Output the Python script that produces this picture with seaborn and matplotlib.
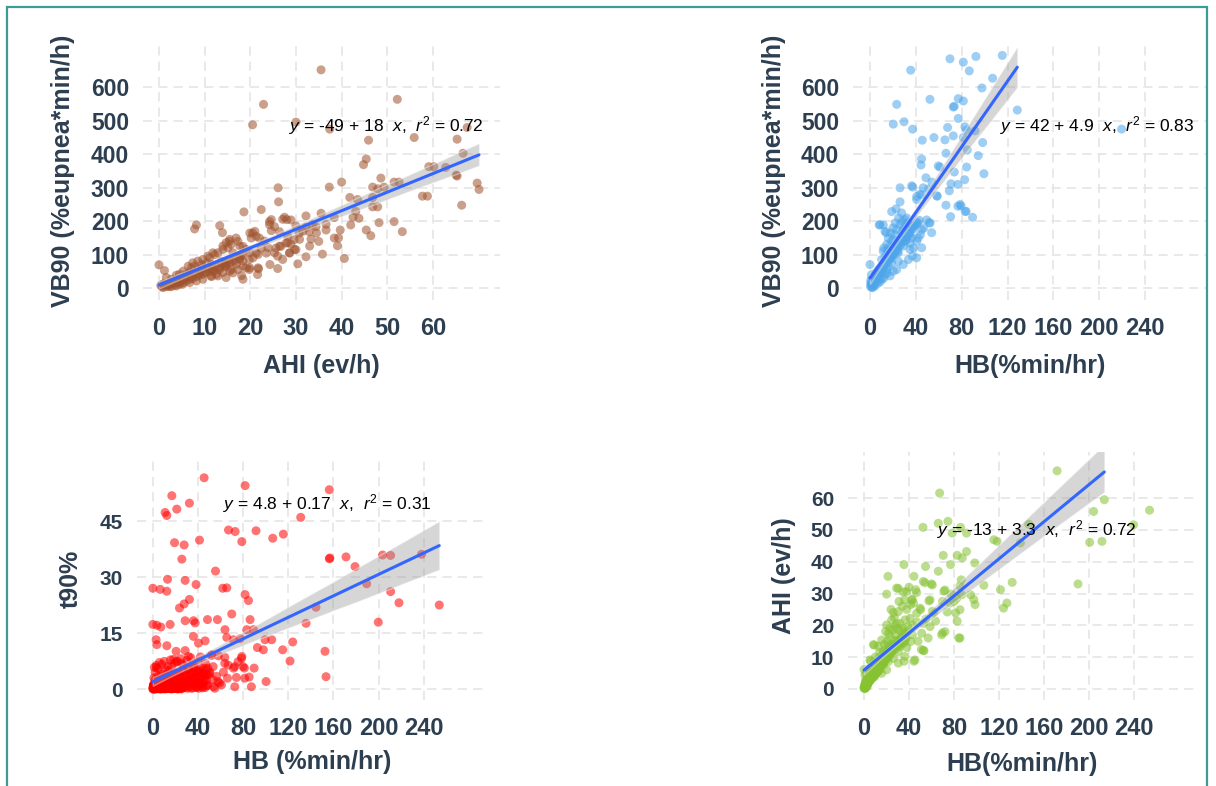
import matplotlib
matplotlib.use("Agg")
import matplotlib.pyplot as plt
import seaborn as sns
from matplotlib.patches import Rectangle
from matplotlib.collections import PolyCollection

# ---------------- data ----------------
# Panel 1: AHI (ev/h) vs VB90
p1_ahi = [35.5, 22.9, 20.5, 52.2, 37.4, 30, 45.9, 55.9, 65.3, 67.5,
          66.6, 45.4, 44.8, 59.1, 60.2, 62.8, 65.1, 65.3, 69.7, 70.1,
          66.3, 57.7, 58.8, 40, 37.3, 26.1, 26.2, 22.4, 18.6, 48.6,
          46.8, 47.9, 49.3, 51.5, 52.6, 41.8, 43.5, 46.8, 46.8, 47.9,
          43.1, 42.5, 43.8, 42, 48.2, 51.5, 53.3, 45.4, 46.4, 35.5,
          32.2, 38.4, 36.6, 36.6, 39.7, 38.4, 39.3, 39.1, 40.6, 35.8,
          35, 33.3, 32.2, 34.4, 30, 27.1, 28.9, 27.5, 28, 24.2,
          25.3, 24.6, 26.4, 28.2, 28.9, 30, 30.4, 32.2, 25.6, 26,
          24.3, 26, 21.8, 19.8, 20.5, 21.3, 8.2, 7.8, 13.3, 13.9,
          15.4, 17.3, 18.4, 18.1, 0, 1.2,
          0.7, 1.6, 2.3, 3.4, 4.2, 3.8, 4.9, 4.5, 5.6, 6,
          6.7, 7.1, 7.8, 8.5, 9.3, 9.6, 10.4, 11.1, 11.5, 11.8,
          11.5, 12.9, 12.2, 12.9, 14, 14.7, 15.1, 15.8, 16.2, 16.9,
          15.8, 14.4, 13.6, 18, 17.7, 19.1, 19.9, 20.6, 21.7, 21.7,
          19.9, 18.4, 19.9, 21, 20.2, 22, 23.1, 23.9, 25.3, 26.4,
          24.6, 24.2, 29.7, 28.2, 28.6, 30.8, 31.5, 33, 34.5,
          0.9, 2, 2.7, 3.4, 4.5, 5.3, 6, 6.7, 7.4, 8.2,
          8.9, 9.6, 10.4, 11.1, 12.2, 13.3, 14.6, 15.5, 16.6, 17.7,
          18.4, 19.1, 15.5, 14, 12.6,
          1.6, 2.7, 3.8, 5.3, 6.4, 7.4, 8.5, 9.6, 10.7, 11.8,
          14, 15.5, 16.9,
          13.3, 14.7, 16.2, 17.3, 19.8, 21.3, 22.4, 23.5, 26.7, 27.8,
          28.6, 29.6, 30.7, 32.9, 33.6, 27.1, 21.6, 18.4, 14.7, 11.4,
          9.6, 8.2, 6.7, 5.2, 3.8, 2.3, 0.9,
          0.4, 1.1, 1.9, 2.6, 3.3, 4.1, 4.8, 5.6, 6.3, 7.1,
          7.8, 8.6, 9.3, 10.1, 10.8, 11.6, 12.3, 13.1, 13.8, 14.6,
          15.3, 16.1, 16.8, 17.6, 18.3]
p1_vb90 = [652, 549, 488, 564, 475, 496, 442, 450, 445, 480,
           403, 386, 369, 363, 363, 361, 338, 335, 314, 295,
           248, 275, 275, 317, 302, 300, 258, 235, 228, 329,
           302, 297, 302, 317, 317, 271, 265, 271, 243, 243,
           230, 212, 209, 189, 196, 199, 169, 174, 157, 224,
           216, 211, 191, 174, 174, 150, 150, 127, 89, 102,
           140, 147, 182, 184, 186, 206, 204, 212, 205, 199,
           184, 172, 169, 155, 132, 115, 73, 94, 120, 96,
           71, 59, 58, 56, 165, 155, 189, 177, 187, 166,
           140, 140, 125, 38, 70, 53,
           5, 5, 12, 17, 17, 27, 27, 42, 32, 42,
           47, 61, 66, 56, 71, 61, 76, 91, 71, 51,
           35, 37, 101, 106, 116, 136, 121, 131, 106, 71,
           56, 66, 81, 96, 126, 116, 106, 91, 101, 61,
           61, 81, 165, 170, 150, 150, 141, 121, 106, 126,
           205, 190, 116, 136, 106, 146, 170, 126, 165,
           12, 9, 5, 9, 12, 17, 22, 27, 29, 35,
           39, 42, 47, 51, 54, 61, 74, 76, 81, 88,
           66, 61, 51, 47, 42,
           32, 27, 39, 51, 66, 76, 81, 86, 96, 106,
           126, 146, 150,
           56, 66, 46, 56, 86, 105, 120, 105, 125, 135,
           105, 145, 165, 169, 189, 86, 41, 27, 32, 37,
           27, 22, 17, 12, 7, 5, 2,
           8, 14, 10, 20, 16, 25, 22, 30, 36, 33,
           45, 42, 52, 49, 60, 58, 66, 64, 75, 72,
           84, 80, 95, 89, 102]

# Panel 2: HB (%min/hr) vs VB90
p2_hb = [69.8, 92.4, 115.4, 81.4, 86.6, 35.5, 107, 97.7, 23.3, 52.3,
         77, 81.4, 72.7, 73.5, 128.5, 20.3, 29.7, 37.2, 77, 82.8,
         84.3, 67.7, 91.6, 45.6, 55.8, 65.4, 72.7, 81.4, 98.3, 66.3,
         84.9, 94.4, 45, 44.5, 59.6, 61, 84.3, 73.5, 99.4, 48.8,
         54, 46.5, 26.2, 37.2, 58.7, 69.2, 76.7, 70.6, 82.6, 66.3,
         76.7, 79.4, 83.1, 89.5, 70.3, 26.2, 18.9, 40.7, 43.6, 51.7,
         53.8, 49.4, 8.1, 14, 11.6, 40.7,
         36.4, 40.8, 45.1, 50.9, 58.2, 78.6, 83.8, 22.7, 8.7, 13.1,
         27.6, 30.6, 33.5, 37.8, 40.8, 45.1, 52.4, 34.9, 40.8, 45.1,
         34.9, 29.1, 24.7, 17.5, 11.6, 7.3, 2.9, 1.5, 4.4, 0,
         14.6, 20.4, 26.2, 29.1, 20.4, 17.5, 14.6, 11.6, 10.2, 8.7,
         13.1, 17.5, 23.3, 29.1, 33.5, 37.1, 5.8, 10.2, 2.9, 0.6, 2.3,
         23.3, 26.2, 30.6, 33.5, 36.4, 27.6, 21.8, 18.9, 23.3, 16,
         13.1, 18.9, 24.7, 5.8, 14.6, 20.4, 8.1, 4.4,
         0.5, 1, 1.5, 2, 3, 3.5, 0.8, 1.2, 4, 6,
         7, 9, 12, 15, 16, 19, 21, 25, 28, 31,
         35, 38, 42, 44, 47, 32, 28, 25, 22, 20,
         18, 16, 15, 12,
         1.8, 3.6, 5.2, 6.9, 8.4, 9.8, 11.3, 12.7, 14.2, 15.5,
         16.9, 18.3, 19.6, 21, 22.4, 23.8, 25.1, 26.5, 27.9, 29.3,
         30.6, 32, 33.4, 34.8, 36.1, 37.5, 38.9, 40.2, 41.6, 43,
         4.7, 7.8, 10.6, 13.9, 17.2, 20.8, 24.1, 27.3, 31.5, 35.2]
p2_vb90 = [685, 692, 695, 675, 649, 651, 627, 598, 549, 564,
           566, 559, 541, 543, 532, 490, 497, 475, 507, 482,
           472, 480, 470, 442, 450, 443, 455, 450, 435, 403,
           413, 396, 386, 368, 365, 362, 362, 347, 342, 330,
           317, 300, 300, 302, 275, 291, 310, 312, 324, 248,
           245, 246, 229, 212, 214, 258, 229, 265, 281, 196,
           166, 204, 189, 166, 189, 91,
           306, 274, 279, 296, 276, 250, 230, 237, 190, 170,
           225, 205, 195, 185, 195, 175, 195, 160, 141, 121,
           116, 126, 106, 86, 66, 56, 27, 12, 7, 71,
           101, 116, 146, 175, 146, 126, 131, 111, 86, 47,
           42, 37, 56, 71, 86, 96, 22, 27, 7, 17, 2,
           175, 190, 185, 170, 150, 165, 160, 141, 126, 111,
           91, 76, 81, 42, 56, 51, 27, 32,
           5, 10, 3, 15, 20, 12, 25, 40, 45, 35,
           15, 20, 30, 45, 65, 95, 100, 135, 150, 140,
           135, 120, 150, 160, 180, 210, 200, 210, 195, 180,
           165, 150, 115, 120,
           14, 24, 31, 42, 45, 55, 60, 70, 72, 82,
           88, 92, 101, 104, 113, 116, 126, 128, 139, 140,
           150, 152, 163, 165, 175, 178, 186, 190, 197, 203,
           30, 50, 48, 85, 95, 120, 110, 150, 145, 180]
p2_extra_hb = [219.5]
p2_extra_vb90 = [475]

# Panel 3: HB (%min/hr) vs t90%
p3_hb = [45.4, 81.7, 156.3, 16.8, 32.4, 21.2, 10.9, 12.4, 131, 67,
         72.9, 91.4, 106.2, 115.6, 78.8, 41.3, 19.2, 27.7, 25.7, 156.3,
         156.8, 171.1, 179.1, 203.5, 210.6, 238, 189.4, 210.6, 218, 253.7,
         144.5, 199.7, 135.7, 152.5, 153.4, 55.5, 65.5, 61.9, 13, 28.6,
         38.3, 0, 6.5, 12.4, 23.6, 27.7, 32.4, 28.6, 36, 37.5,
         48.4, 57.2, 69.9, 81.7, 84.7, 86.1, 0, 3.5, 7.1, 15.3,
         35.9, 46.3, 63.9, 65.5, 83.2, 89.1, 99.4, 105.3, 92.6, 97.9,
         115, 123.9, 121.5, 100.3, 2.9, 3.5, 12.4, 20.6, 28.6, 40.4,
         31.6, 52.2, 58.1, 71.4, 77.3, 78.8, 81.1, 85.3, 89.7, 71.4,
         53.7, 48.7,
         3.2, 7.7, 12.1, 16.5, 20.9, 25.4, 29.8, 34.2, 38.6, 1.8,
         6.2, 10.6, 15, 19.5, 23.9, 28.3, 32.7, 37.2, 41.6, 46,
         43, 47.5, 50.4, 44.5, 40.1, 35.7, 31.3, 26.8, 22.4, 18,
         13.6, 9.1, 4.7, 1.8, 4.7, 10.6, 16.5, 18, 20.9, 25.4,
         54.9, 57.8, 60.8, 53.4, 63.7, 66.7, 72.6, 75.5, 78.5, 80,
         74, 81.4, 72.6, 87.3, 51.9, 63.7,
         0, 0.5, 1, 1.5, 2, 2.5, 4, 5, 6, 9,
         11, 14, 18, 22, 24, 27, 31, 36, 40, 44,
         48, 0.5, 1, 2, 3, 5, 8, 12, 14, 17,
         21, 26, 30, 33, 35, 39, 42, 45,
         0.2, 0.6, 1.1, 1.7, 2.3, 2.9, 3.6, 4.2, 4.9, 5.5,
         6.1, 6.8, 7.4, 8.1, 8.7, 9.4, 10, 10.7, 11.3, 12,
         12.6, 13.3, 13.9, 14.6, 15.2, 15.9, 16.5, 17.2, 17.8, 18.5,
         19.1, 19.8, 20.4, 21.1, 21.7, 22.4, 23, 23.7, 24.3, 25,
         25.6, 26.3, 26.9, 27.6, 28.2, 28.9, 29.5, 30.2, 30.8, 31.5,
         32.1, 32.8, 33.4, 34.1, 34.7, 35.4, 36, 36.7, 37.3, 38,
         38.6, 39.3, 39.9, 40.6, 41.2, 41.9, 42.5, 43.2, 43.8, 44.5,
         45.1, 45.8, 46.4, 47.1, 47.7, 48.4, 49, 1.3, 3.1, 5.8,
         7.9, 10.2, 12.9, 15.6, 18.8, 21.5, 24.6, 27.1, 30.1, 33.6,
         36.2, 39.7, 42.2, 46.7, 50.3, 53.1, 56.4, 59.2, 62.5, 66.1,
         0.1, 0.4, 0.7, 1.0, 1.3, 1.6, 1.9, 2.2, 2.5, 2.8,
         3.1, 3.4, 3.7, 4.0, 4.3, 4.6, 4.9, 5.2, 5.5, 5.8,
         6.1, 6.4, 6.7, 7.0, 7.3, 7.6, 7.9, 8.2, 8.5, 8.8,
         9.1, 9.4, 9.7, 10.0, 10.3, 10.6, 10.9, 11.2, 11.5, 11.8,
         12.1, 12.4, 12.7, 13.0, 13.3, 13.6, 13.9, 14.2, 14.5, 14.8,
         15.1, 15.4, 15.7, 16.0, 16.3, 16.6, 16.9, 17.2, 17.5, 17.8,
         18.1, 18.4, 18.7, 19.0, 19.3, 19.6, 19.9, 20.2, 20.5, 20.8,
         21.1, 21.4, 21.7, 22.0, 22.3, 22.6, 22.9, 23.2, 23.5, 23.8,
         24.1, 24.4, 24.7, 0.3, 0.9, 1.5, 2.1, 2.7, 3.3, 3.9,
         4.5, 5.1, 5.7, 6.3, 6.9, 7.5, 8.1, 8.7, 9.3, 9.9,
         10.5, 11.1, 11.7, 12.3, 12.9, 13.5, 14.1, 14.7, 15.3, 15.9,
         16.5, 17.1, 17.7, 18.3, 18.9, 19.5, 20.1, 20.7, 21.3, 21.9]
p3_t90 = [56.6, 54.5, 53.4, 51.8, 49.8, 48.2, 47.3, 46.5, 46, 42.6,
          42.2, 42.4, 40.4, 41.5, 39.5, 39.9, 39.2, 38.6, 34.8, 34.9,
          35.1, 35.4, 32.8, 35.9, 35.8, 36.1, 28.2, 26.1, 23.1, 22.5,
          21.9, 17.9, 17.6, 10.1, 3.3, 31.6, 27.1, 27, 29.4, 29.1,
          28, 27, 26.7, 26.2, 21.7, 22.8, 24, 18.3, 18.3, 17.7,
          18.6, 18.6, 20.1, 25.3, 23.7, 18.6, 17.3, 17.1, 16.6, 17.3,
          14.1, 12.9, 15.9, 13.8, 15.9, 15.9, 13.2, 13.2, 11.1, 10.5,
          10.5, 12.6, 7.5, 2, 13.2, 11.9, 11.6, 10.1, 10.3, 12.3,
          8.7, 9.2, 8.9, 13.2, 13.5, 8.7, 5.6, 3.2, 5.6, 5.6,
          0.6, 5.6,
          0.2, 0, 0.2, 0, 0.4, 0, 0.4, 0.2, 0.4, 1.1,
          1.3, 1.7, 2, 2.4, 2.9, 3.3, 3.8, 4, 3.1, 2.4,
          1.5, 3.8, 4.6, 5.5, 4.6, 5.5, 5.1, 4.6, 4.2, 3.8,
          3.1, 2.6, 2, 2.4, 5.5, 5.1, 6, 7.9, 7.3, 6.9,
          0.2, 2, 1.1, 6, 6.9, 6.4, 6, 7.3, 8.2, 6,
          3.1, 2.9, 0.6, 0.6, 9, 8.5,
          0, 0, 0.1, 0, 0.3, 0, 0.1, 0.5, 0, 0.3,
          0, 0.5, 0.2, 0, 1, 0.5, 1.2, 1.8, 0.8, 0.3,
          0.9, 1, 3, 4.5, 5.8, 3.5, 4, 3.8, 5, 1,
          1.5, 2, 2.2, 1.5, 3, 2, 4.8, 4,
          0.3, 0.8, 0.1, 1.4, 0.5, 2.1, 0.2, 1.1, 2.6, 0.4,
          1.8, 0.1, 3.2, 0.7, 1.5, 2.8, 0.3, 1.9, 3.6, 0.6,
          2.3, 0.2, 4.1, 1.2, 2.7, 0.5, 3.4, 1.6, 0.2, 2.2,
          4.4, 0.9, 2.9, 0.3, 3.8, 1.4, 0.6, 4.6, 2.1, 0.1,
          3.1, 1.7, 0.4, 4.9, 2.5, 0.8, 3.7, 1.3, 0.2, 5.2,
          2.4, 0.7, 3.9, 1.5, 4.3, 0.3, 2.8, 5.6, 1.1, 3.3,
          0.5, 4.7, 2, 0.2, 3.6, 1.2, 5.1, 2.6, 0.6, 4.2,
          1.8, 3.4, 0.4, 5.4, 2.3, 1, 3.9, 5.8, 6.3, 7.1,
          6.6, 7.4, 6.1, 7.8, 6.9, 7.5, 8.1, 6.4, 7.7, 8.4,
          6.2, 7.3, 8.6, 6.8, 4.1, 2.5, 3.4, 1.6, 4.5, 2.9,
          0.2, 0.9, 0.4, 1.3, 0.1, 0.7, 1.1, 0.3, 0.8, 1.4,
          0.5, 0.1, 1.2, 0.6, 0.3, 1.0, 0.2, 1.5, 0.4, 0.9,
          0.1, 1.3, 0.6, 0.2, 1.1, 0.4, 0.8, 0.1, 1.4, 0.5,
          0.9, 0.3, 1.2, 0.1, 0.7, 1.5, 0.4, 0.2, 1.0, 0.6,
          0.3, 1.1, 0.1, 0.8, 1.4, 0.5, 0.2, 1.2, 0.7, 0.1,
          1.0, 0.4, 1.3, 0.2, 0.6, 0.9, 0.1, 1.5, 0.3, 0.8,
          0.5, 1.2, 0.2, 0.7, 1.1, 0.4, 0.1, 0.9, 1.3, 0.6,
          0.2, 0.8, 1.4, 0.3, 1.0, 0.5, 0.1, 1.2, 0.6, 0.4,
          1.1, 0.3, 0.7, 0.6, 1.2, 0.2, 0.9, 0.4, 1.3, 0.1,
          0.8, 0.5, 1.1, 0.2, 1.4, 0.7, 0.3, 1.0, 0.1, 0.6,
          1.2, 0.4, 0.9, 0.2, 1.3, 0.5, 0.8, 0.1, 1.1, 0.3,
          0.7, 1.4, 0.2, 1.0, 0.6, 0.3, 1.2, 0.5, 0.9, 0.1]

# Panel 4: HB (%min/hr) vs AHI (ev/h)
p4_hb = [171.6, 67.2, 213.6, 204.1, 200.6, 211.5, 52.4, 66, 74.6, 78.4,
         85.8, 91.1, 115.4, 118.3, 146.4, 139, 190.2, 70.4, 82.8, 87.3,
         91.1, 35.5, 54.7, 66, 76.9, 98.5, 44.4, 52.7, 59.8, 21.3,
         20.1, 29, 34.9, 45.9, 42.9, 41.4, 50.3, 57.7, 71, 77.5,
         86.4, 85.2, 94.7, 97.6, 106.5, 121.3, 131.7, 127, 124, 60.7,
         69.8, 74, 82.8, 84.3, 69.8, 63.6, 76.4, 81.4, 50.9, 53.3,
         44.4, 35.5, 20.7, 19.2, 8.3, 5.9, 0, 3, 1.5, 0,
         30.5, 37.9, 46.8, 54.2, 60.7, 31.1, 42.4, 49.8, 58.7, 40.9,
         46.8, 52.7, 58.7, 30.5, 24.6, 20.1, 27.6, 33.5, 37.3, 41.5,
         45.3, 52.7, 36.4, 30.5, 26.1, 21.6, 17.2, 12.7, 9.2, 5.3,
         3.9, 0.9, 1.5, 2.4, 5.3, 9.6, 12.7, 17.2, 21.6, 26.1,
         30.5, 20.1, 15.7, 11.2, 8.3, 18.7, 23.1, 27.6, 32, 35.1,
         15.7, 12.7, 21.6, 25.8, 32, 36.4, 72, 82.4, 86.8, 85.3,
         98.7, 72, 85.3, 80, 69, 51.3,
         0.5, 1, 2, 3, 4, 6, 7, 10, 14, 16,
         19, 23, 25, 28, 30, 33, 35, 39, 43, 47,
         27, 24, 29, 31, 18, 14, 10, 8, 6, 2,
         38, 44, 34, 40, 48, 55, 62, 57, 38, 43,
         23, 26, 36,
         0.3, 0.8, 1.2, 1.8, 2.5, 3.1, 3.7, 4.4, 5, 5.6,
         6.3, 6.9, 7.6, 8.2, 8.9, 9.5, 10.2, 10.8, 11.5, 12.1,
         12.8, 13.4, 14.1, 14.7, 15.4, 16, 16.7, 17.3, 18, 18.6,
         19.3, 19.9, 20.6, 21.2, 21.9, 22.5, 23.2, 23.8, 24.5, 25.1,
         26.4, 27.8, 29.1, 30.5, 31.8, 33.2, 34.5, 35.9, 37.2, 38.6,
         2.1, 4.7, 7.3, 9.9, 13.6, 17.8, 22.7, 26.9, 31.2, 36.1,
         0.2, 0.6, 1.0, 1.4, 1.8, 2.2, 2.6, 3.0, 3.4, 3.8,
         4.2, 4.6, 5.0, 5.4, 5.8, 6.2, 6.6, 7.0, 7.4, 7.8,
         8.2, 8.6, 9.0, 9.4, 9.8, 10.2, 10.6, 11.0, 11.4, 11.8,
         12.2, 12.6, 13.0, 13.4, 13.8, 0.4, 1.2, 2.0, 2.8, 3.6,
         4.4, 5.2, 6.0, 6.8, 7.6]
p4_ahi = [68.6, 61.6, 59.5, 55.8, 46.1, 46.4, 50.8, 52.1, 52.7, 49,
          50.8, 49, 46.9, 46.4, 51.8, 45.9, 33, 42, 42, 41.2,
          43.2, 39.1, 38.5, 37, 39.1, 39.6, 35.4, 33.8, 33, 35.4,
          29.8, 31.7, 30.5, 31.2, 28.1, 26.5, 24.9, 27.7, 30.7, 29.8,
          34.3, 32.3, 29.6, 28.1, 32.6, 31.2, 33.5, 27, 25.4, 24.4,
          27.5, 24.2, 21.3, 16, 17.6, 21.3, 27, 23.9, 12.4, 12,
          8.7, 8.7, 15, 18.1, 13.9, 8.7, 6.1, 3.5, 1.4, 0.3,
          31.6, 30.6, 30.3, 33.4, 32.7, 27.5, 28, 25.4, 28, 22.2,
          23.8, 20.6, 19.6, 24.3, 21.7, 20.1, 19.6, 18, 16.5, 14.9,
          9.1, 12.1, 10.2, 11.7, 12.8, 13.8, 11.7, 9.6, 13.8, 9.1,
          6, 4.4, 2.8, 1.3, 2.8, 3.9, 5.5, 7.5, 8.6, 9.6,
          8.1, 6, 4.9, 6.5, 8.1, 10.7, 16.4, 15.3, 13.3, 14.3,
          15.4, 13.4, 17.4, 18.6, 20.6, 21.7, 31.1, 28.5, 29.6, 24.9,
          26.5, 18, 16, 27.5, 17, 17.5,
          0.8, 2, 0.5, 1.8, 3, 4.5, 6, 8, 9, 10.5,
          12.5, 11, 14, 17, 15, 16, 19, 19.5, 20, 21,
          22.5, 25, 20.5, 18.5, 14, 11.5, 10, 5.5, 7, 5,
          25, 27, 26, 32, 15, 22, 24, 16, 13, 17,
          19, 24, 28,
          0.5, 1.2, 0.2, 1.8, 2.6, 1, 3.2, 2.2, 4, 2.9,
          4.6, 3.3, 5.2, 4.1, 6, 4.7, 6.4, 5.3, 7.2, 5.8,
          7.7, 6.5, 8.3, 7, 9.1, 7.6, 9.6, 8.2, 10.3, 8.7,
          11, 9.3, 11.6, 9.9, 12.3, 10.5, 12.9, 11.1, 13.4, 11.8,
          12.6, 14.1, 13.3, 15, 14.2, 16.1, 15, 17.2, 15.8, 18,
          0.8, 2.5, 3.8, 5.1, 6.8, 8.8, 11.4, 12.2, 13.7, 14.9,
          0.4, 1.1, 0.2, 1.6, 0.8, 2.1, 1.3, 2.6, 1.7, 3.0,
          2.2, 3.4, 2.5, 3.7, 2.9, 4.0, 3.1, 4.4, 3.5, 4.7,
          3.8, 5.0, 4.1, 5.3, 4.5, 5.6, 4.8, 5.9, 5.2, 6.2,
          5.5, 6.5, 5.8, 6.8, 6.1, 0.1, 0.6, 0.9, 1.4, 1.9,
          2.4, 2.8, 3.3, 3.6, 4.2]
p4_extra_hb = [253.8, 239.6]
p4_extra_ahi = [56.2, 51.6]

# ---------------- styling ----------------
sns.set_style("white")
plt.rcParams["font.family"] = ["Liberation Sans", "DejaVu Sans"]
plt.rcParams["mathtext.fontset"] = "custom"
plt.rcParams["mathtext.rm"] = "Liberation Sans"
plt.rcParams["mathtext.it"] = "Liberation Sans:italic"

TXT = "#2c3e50"
LINE = "#3366FF"

fig = plt.figure(figsize=(12.16, 7.86), dpi=100)


def panel(rect, x, y, color, ex, ey, xlim, ylim, xticks, yticks,
          xlabel, ylabel, eq, eqxy, ylc, xlc, ytick_size):
    ax = fig.add_axes(rect)
    n = min(len(x), len(y))
    x, y = list(x)[:n], list(y)[:n]
    allx = x + list(ex)
    ally = y + list(ey)
    sns.scatterplot(x=allx, y=ally, ax=ax, color=color, alpha=0.55,
                    s=42, edgecolor="none", zorder=2)
    sns.regplot(x=x, y=y, ax=ax, scatter=False, ci=95, truncate=True,
                color="#999999", line_kws=dict(color=LINE, lw=2.2, zorder=4))
    for c in ax.collections:
        if isinstance(c, PolyCollection):
            c.set_facecolor("#999999")
            c.set_alpha(0.4)
            c.set_zorder(3)
    ax.set_xlim(*xlim)
    ax.set_ylim(*ylim)
    ax.set_xticks(xticks)
    ax.set_yticks(yticks)
    ax.grid(True, color="#e3e3e3", lw=1.1, ls=(0, (6, 4)))
    ax.set_axisbelow(True)
    for s in ax.spines.values():
        s.set_visible(False)
    ax.tick_params(axis="x", length=0, pad=12, labelsize=17, labelcolor=TXT)
    ax.tick_params(axis="y", length=0, pad=10, labelsize=ytick_size, labelcolor=TXT)
    for lb in ax.get_xticklabels() + ax.get_yticklabels():
        lb.set_fontweight("bold")
    ax.set_xlabel(xlabel, fontsize=18, fontweight="bold", color=TXT)
    ax.set_ylabel(ylabel, fontsize=18, fontweight="bold", color=TXT)
    ax.yaxis.set_label_coords(ylc, 0.5)
    ax.xaxis.set_label_coords(0.5, xlc)
    ax.text(eqxy[0], eqxy[1], eq, fontsize=12.5, fontweight="normal",
            color="black", ha="left", va="center", zorder=5)
    return ax


panel([0.1176, 0.6183, 0.2936, 0.3282], p1_ahi, p1_vb90, "sienna", [], [],
      (-3.5, 74.7), (-35, 735), range(0, 61, 10), range(0, 601, 100),
      "AHI (ev/h)", "VB90 (%eupnea*min/h)",
      r"$y$ = -49 + 18  $x$,  $r^2$ = 0.72", (28.5, 487), -0.19, -0.21, 16.5)

panel([0.7015, 0.6183, 0.2911, 0.3282], p2_hb, p2_vb90, "#4ea6ea",
      p2_extra_hb, p2_extra_vb90,
      (-14.8, 294), (-35, 735), range(0, 241, 40), range(0, 601, 100),
      "HB(%min/hr)", "VB90 (%eupnea*min/h)",
      r"$y$ = 42 + 4.9  $x$,  $r^2$ = 0.83", (113.5, 487), -0.19, -0.21, 16.5)

panel([0.1127, 0.1094, 0.2878, 0.3079], p3_hb, p3_t90, "red", [], [],
      (-14, 296), (-2.95, 61.9), range(0, 241, 40), [0, 15, 30, 45],
      "HB (%min/hr)", "t90%",
      r"$y$ = 4.8 + 0.17  $x$,  $r^2$ = 0.31", (62, 49.8), -0.155, -0.207, 15)

panel([0.6974, 0.1094, 0.2870, 0.3155], p4_hb, p4_ahi, "#86c232",
      p4_extra_hb, p4_extra_ahi,
      (-14.2, 296), (-3.5, 74.5), range(0, 241, 40), range(0, 61, 10),
      "HB(%min/hr)", "AHI (ev/h)",
      r"$y$ = -13 + 3.3  $x$,  $r^2$ = 0.72", (65, 50), -0.148, -0.21, 15)

# teal frame around the figure
fig.patches.append(Rectangle((7 / 1216, -0.02), 1200 / 1216, 1.02 - 7 / 786,
                             transform=fig.transFigure, fill=False,
                             edgecolor="#3d9a96", lw=1.6))

fig.savefig("out.png", dpi=100)
